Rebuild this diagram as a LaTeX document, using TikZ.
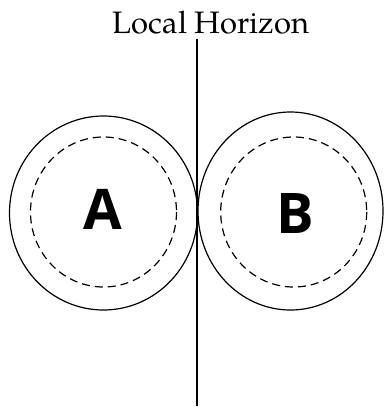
\documentclass[tikz,border=0pt]{standalone}
\usepackage{fontspec}
\setmainfont{TeX Gyre Pagella}
\newfontfamily\lettersfont{Open Sans}
\begin{document}
\begin{tikzpicture}[x=1pt,y=-1pt,
  outer/.style={draw,line width=1.2pt},
  inner/.style={draw,line width=1.2pt,dash pattern=on 8pt off 5pt},
  letter/.style={font=\lettersfont\bfseries\fontsize{56}{56}\selectfont,inner sep=0pt},
  title/.style={font=\fontsize{31}{31}\selectfont,inner sep=0pt,anchor=base}]
\useasboundingbox (0,0) rectangle (383,407);
\draw[outer] (103.5,213) ellipse[x radius=94,y radius=97];
\draw[inner] (103.5,212) ellipse[x radius=73,y radius=75];
\draw[outer] (290.5,211) ellipse[x radius=92.5,y radius=99];
\draw[inner] (293.7,212) ellipse[x radius=73,y radius=75];
\node[title] (t) at (211,33) {Local Horizon};
\coordinate (top) at (197,39);
\coordinate (bot) at (197,406);
\draw[line width=1.5pt] (top) -- (bot);
\node[letter] (a) at (102.5,209) {A};
\node[letter] (b) at (295,214) {B};
\end{tikzpicture}
\end{document}
